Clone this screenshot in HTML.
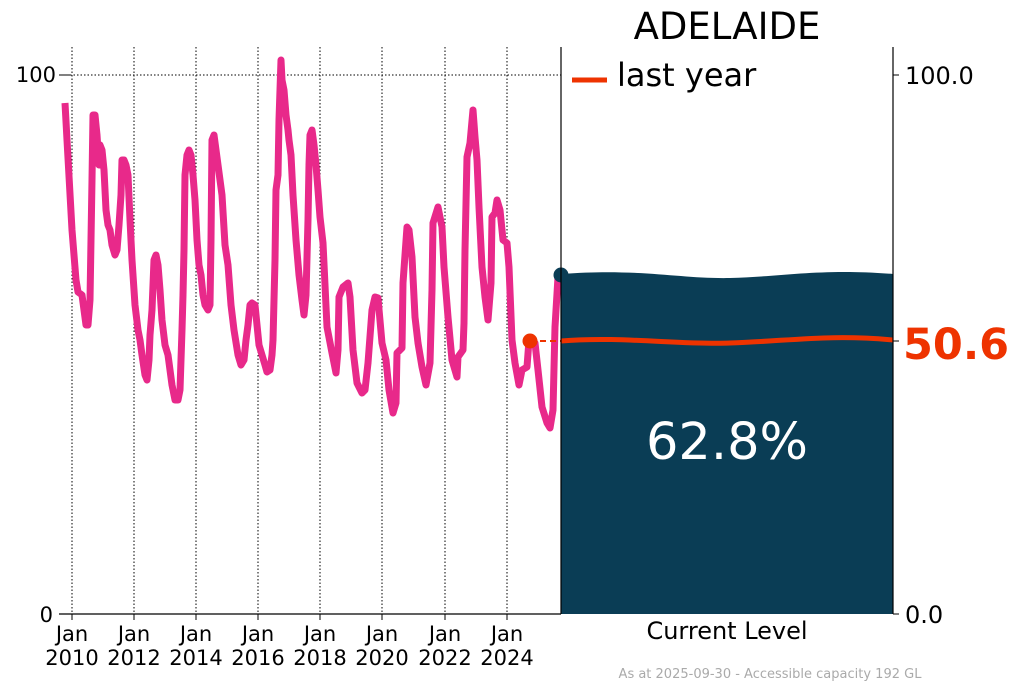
<!DOCTYPE html>
<html><head><meta charset="utf-8"><style>
body{margin:0;background:#fff;}
svg{display:block;font-family:"DejaVu Sans","Liberation Sans",sans-serif;}
</style></head><body>
<svg width="1024" height="691" viewBox="0 0 1024 691" xmlns="http://www.w3.org/2000/svg">
<g stroke="#000" stroke-width="1" stroke-dasharray="1.5,2">
<line x1="72" y1="47" x2="72" y2="614"/><line x1="134" y1="47" x2="134" y2="614"/>
<line x1="196" y1="47" x2="196" y2="614"/><line x1="258" y1="47" x2="258" y2="614"/>
<line x1="320" y1="47" x2="320" y2="614"/><line x1="382" y1="47" x2="382" y2="614"/>
<line x1="445" y1="47" x2="445" y2="614"/><line x1="507" y1="47" x2="507" y2="614"/>
<line x1="70" y1="75" x2="561" y2="75"/>
</g>
<line x1="59" y1="614" x2="561" y2="614" stroke="#000" stroke-width="1.2"/>
<line x1="59" y1="75" x2="70" y2="75" stroke="#000"/>
<g stroke="#000"><line x1="72" y1="614" x2="72" y2="620"/><line x1="134" y1="614" x2="134" y2="620"/><line x1="196" y1="614" x2="196" y2="620"/><line x1="258" y1="614" x2="258" y2="620"/><line x1="320" y1="614" x2="320" y2="620"/><line x1="382" y1="614" x2="382" y2="620"/><line x1="445" y1="614" x2="445" y2="620"/><line x1="507" y1="614" x2="507" y2="620"/></g>
<g font-size="21" text-anchor="middle" fill="#000">
<text x="72" y="641">Jan</text><text x="72" y="665">2010</text>
<text x="134" y="641">Jan</text><text x="134" y="665">2012</text>
<text x="196" y="641">Jan</text><text x="196" y="665">2014</text>
<text x="258" y="641">Jan</text><text x="258" y="665">2016</text>
<text x="320" y="641">Jan</text><text x="320" y="665">2018</text>
<text x="382" y="641">Jan</text><text x="382" y="665">2020</text>
<text x="445" y="641">Jan</text><text x="445" y="665">2022</text>
<text x="507" y="641">Jan</text><text x="507" y="665">2024</text>
</g>
<g font-size="21" text-anchor="end"><text x="56" y="82">100</text><text x="53" y="622">0</text></g>
<polyline fill="none" stroke="#e8298a" stroke-width="7" stroke-linejoin="round" points="65,103 67,140 72,230 76,280 78,292 82,295 84,310 86,325 88,325 90,300 92,180 93,115 95,115 97,135 99,165 100,145 102,150 104,170 106,210 108,225 110,230 112,245 115,255 117,250 119,225 121,195 122,160 124,160 126,165 128,175 130,220 132,260 135,305 138,330 140,340 142,355 145,375 147,380 149,360 150,335 152,310 154,260 156,255 158,265 160,290 162,320 165,345 168,355 170,370 172,385 175,400 178,400 180,390 182,330 183,295 184,250 185,175 187,155 189,150 191,155 193,175 195,200 197,240 199,265 201,275 203,295 205,305 208,310 210,305 211,240 212,140 214,135 216,150 218,165 220,180 222,195 225,245 228,265 231,305 234,330 238,355 241,365 244,360 246,340 248,325 250,305 252,303 255,305 257,325 259,345 262,355 265,365 267,372 270,370 272,355 273,340 275,260 276,190 278,175 279,120 281,60 282,80 284,90 286,115 288,130 289,140 291,155 293,195 296,240 299,275 302,300 304,315 306,295 308,220 309,165 310,135 312,130 314,145 316,165 318,190 320,217 323,243 327,327 332,353 336,373 338,350 339,297 343,287 348,283 350,297 353,350 357,383 362,393 365,390 368,363 372,310 375,297 378,298 382,343 386,360 389,390 393,413 396,403 397,353 402,348 403,283 407,227 409,230 412,257 415,317 418,343 422,367 426,385 430,363 432,290 433,223 438,207 442,227 444,267 448,317 452,360 457,377 458,357 463,350 464,323 465,250 467,157 470,143 473,110 475,137 477,160 479,207 482,267 485,297 488,320 491,283 492,217 495,213 497,200 500,210 503,240 507,243 509,267 512,340 515,363 519,385 522,370 527,367 529,340 535,343 538,370 542,407 547,423 550,428 553,410 555,327 558,277"/>
<line x1="530" y1="341" x2="561" y2="341" stroke="#ee3300" stroke-width="2" stroke-dasharray="6,4"/>
<circle cx="530" cy="341" r="7.5" fill="#ee3300"/>
<circle cx="561" cy="275" r="7.5" fill="#0a3d55"/>
<path d="M561,274 C640,268 680,279 730,278 C780,277 820,268 893,274 L893,614 L561,614 Z" fill="#0a3d55"/>
<path d="M561,341 C620,336 680,345 730,343 C790,341 830,334 893,340" fill="none" stroke="#ee3300" stroke-width="5"/>
<line x1="561" y1="47" x2="561" y2="614" stroke="#000" stroke-width="1.2"/>
<line x1="893" y1="47" x2="893" y2="614" stroke="#000" stroke-width="1.2"/>
<line x1="893" y1="75" x2="899" y2="75" stroke="#000"/><line x1="893" y1="614" x2="899" y2="614" stroke="#000"/><line x1="893" y1="341" x2="899" y2="341" stroke="#000"/>
<g font-size="24"><text x="905" y="84">100.0</text><text x="905" y="623">0.0</text></g>
<text x="903" y="359" font-size="43" font-weight="bold" fill="#ee3300">50.6</text>
<text x="727" y="39" font-size="37" text-anchor="middle">ADELAIDE</text>
<line x1="572" y1="80" x2="607" y2="80" stroke="#ee3300" stroke-width="5"/>
<text x="617" y="86" font-size="32">last year</text>
<text x="727" y="459" font-size="51" fill="#fff" text-anchor="middle">62.8%</text>
<text x="727" y="639" font-size="24" text-anchor="middle">Current Level</text>
<text x="770" y="678" font-size="13" fill="#aaa" text-anchor="middle">As at 2025-09-30 - Accessible capacity 192 GL</text>
</svg>
</body></html>
